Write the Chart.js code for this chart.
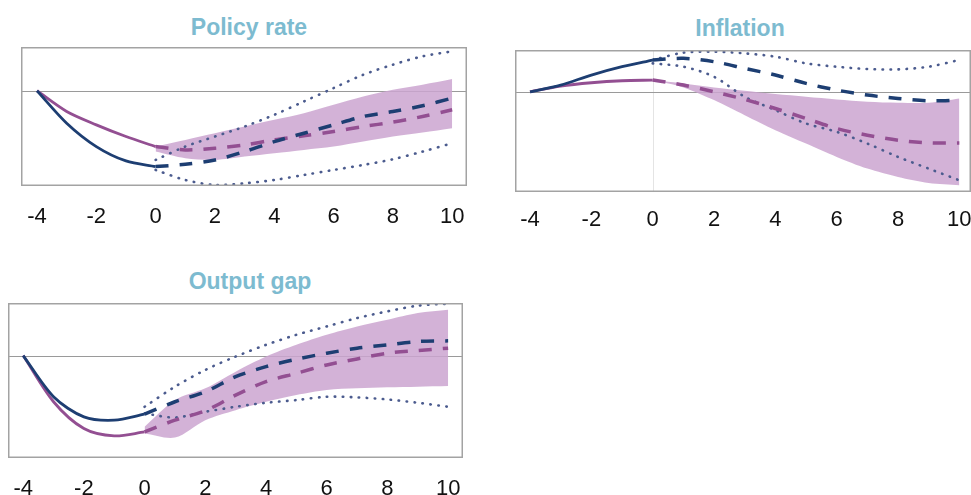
<!DOCTYPE html>
<html>
<head>
<meta charset="utf-8">
<script src="https://cdn.jsdelivr.net/npm/chart.js@4"></script>
<style>
  body { margin: 0; background: #fff; width: 971px; height: 495px; position: relative; overflow: hidden; font-family: "Liberation Sans", Arial, sans-serif; }
  .ttl { position: absolute; font-weight: bold; font-size: 23px; line-height: 26px; color: #7dbbd0; transform: translateX(-50%); white-space: nowrap; }
  .box { position: absolute; }
</style>
</head>
<body>
<div class="ttl" style="left:249px;top:14px">Policy rate</div>
<div class="ttl" style="left:740px;top:15px">Inflation</div>
<div class="ttl" style="left:250px;top:268px">Output gap</div>
<div class="box" style="left:21px;top:47px"><canvas id="cPolicy" width="446" height="184"></canvas></div>
<div class="box" style="left:515px;top:50px"><canvas id="cInfl" width="456" height="187"></canvas></div>
<div class="box" style="left:8px;top:303px"><canvas id="cGap" width="455" height="200"></canvas></div>
<script>
// ================= DATA =================
const xTicks = [-4, -2, 0, 2, 4, 6, 8, 10];
const histX = [-4, -3, -2, -1, 0];
const fcX = [0, 1, 2, 3, 4, 5, 6, 7, 8, 9, 10];

// policy rate
const polHistBlue = [0, -0.97, -1.67, -2.10, -2.27];
const polHistPurple = [0, -0.62, -1.02, -1.37, -1.67];
const polFcBlue = [-2.27, -2.20, -2.07, -1.82, -1.52, -1.27, -1.02, -0.77, -0.62, -0.45, -0.22];
const polFcPurple = [-1.67, -1.77, -1.72, -1.62, -1.47, -1.35, -1.22, -1.07, -0.94, -0.77, -0.57];
const polBandHi = [-1.67, -1.47, -1.27, -1.07, -0.87, -0.67, -0.42, -0.17, 0.03, 0.18, 0.35];
const polBandLo = [-1.82, -2.02, -2.07, -1.97, -1.87, -1.77, -1.67, -1.52, -1.37, -1.25, -1.12];
const polDotHi = [-2.07, -1.67, -1.37, -1.07, -0.72, -0.32, 0.08, 0.48, 0.78, 1.03, 1.18];
const polDotLo = [-2.37, -2.67, -2.82, -2.77, -2.67, -2.52, -2.37, -2.22, -2.05, -1.82, -1.57];

// inflation
const infHistBlue = [0, 0.2, 0.5, 0.75, 0.95];
const infHistPurple = [0, 0.17, 0.27, 0.33, 0.35];
const infFcBlue = [0.95, 1.0, 0.9, 0.7, 0.5, 0.25, 0.05, -0.1, -0.2, -0.27, -0.25];
const infFcPurple = [0.35, 0.2, 0, -0.23, -0.5, -0.8, -1.1, -1.3, -1.45, -1.53, -1.53];
const infBandHi = [0.35, 0.25, 0.13, 0.03, -0.07, -0.15, -0.23, -0.3, -0.33, -0.33, -0.2];
const infBandLo = [0.35, 0.13, -0.25, -0.7, -1.15, -1.55, -1.95, -2.3, -2.55, -2.73, -2.8];
const infDotHi = [0.95, 1.17, 1.2, 1.15, 1.05, 0.85, 0.75, 0.68, 0.67, 0.75, 0.95];
const infDotLo = [0.85, 0.75, 0.45, -0.15, -0.55, -0.95, -1.2, -1.55, -1.95, -2.3, -2.65];

// output gap
const gapHistBlue = [0, -1.23, -1.83, -1.93, -1.75];
const gapHistPurple = [0, -1.38, -2.18, -2.4, -2.28];
const gapFcBlue = [-1.75, -1.38, -1.08, -0.63, -0.33, -0.11, 0.07, 0.22, 0.32, 0.42, 0.44];
const gapFcPurple = [-2.28, -1.93, -1.65, -1.18, -0.78, -0.53, -0.28, -0.1, 0.07, 0.15, 0.22];
const gapBandHi = [-2.13, -1.33, -0.98, -0.48, -0.03, 0.32, 0.62, 0.87, 1.07, 1.27, 1.37];
const gapBandLo = [-2.33, -2.45, -1.93, -1.63, -1.38, -1.18, -1.03, -0.98, -0.95, -0.93, -0.91];
const gapDotHi = [-1.53, -0.93, -0.43, -0.03, 0.32, 0.62, 0.87, 1.12, 1.32, 1.49, 1.55];
const gapDotLo = [-1.73, -1.85, -1.68, -1.53, -1.41, -1.33, -1.23, -1.25, -1.31, -1.41, -1.53];

// ================= STYLE =================
const BLUE = "#1d3e72";
const PURPLE = "#934f92";
const BAND = "rgba(203,165,208,0.85)";
const DOTS = "#4b5b8e";
const AXIS_H = 45;

const pts = (xs, ys) => xs.map((x, i) => ({ x, y: ys[i] }));

// frame + zero line (+ optional faint vertical at 0)
const framePlugin = {
    id: "frame",
    beforeDatasetsDraw(chart, args, opts) {
        const { ctx, chartArea: a, scales } = chart;
        ctx.save();
        if (opts.vline) {
            const x0 = Math.round(scales.x.getPixelForValue(0)) + 0.5;
            ctx.strokeStyle = "#e4e4e4";
            ctx.lineWidth = 1;
            ctx.beginPath(); ctx.moveTo(x0, a.top); ctx.lineTo(x0, a.bottom); ctx.stroke();
        }
        const y0 = Math.round(scales.y.getPixelForValue(0)) + 0.5;
        ctx.strokeStyle = "#9a9a9a";
        ctx.lineWidth = 1.2;
        ctx.beginPath(); ctx.moveTo(a.left, y0); ctx.lineTo(a.right, y0); ctx.stroke();
        ctx.restore();
    },
    afterDatasetsDraw(chart) {
        const { ctx, chartArea: a } = chart;
        ctx.save();
        ctx.strokeStyle = "#a3a3a3";
        ctx.lineWidth = 1.5;
        ctx.strokeRect(a.left + 0.75, a.top + 0.75, a.right - a.left - 1.5, a.bottom - a.top - 1.5);
        ctx.restore();
    }
};

function makeChart(id, d, xr, yr, vline, tickPad) {
    const line = (data, color, width, dash) => ({
        data, borderColor: color, borderWidth: width, borderDash: dash || [],
        pointRadius: 0, tension: 0.3, fill: false, borderCapStyle: dash && dash[0] < 3 ? "round" : "butt"
    });
    // first dataset is drawn on top
    return new Chart(document.getElementById(id), {
        type: "line",
        data: {
            datasets: [
                line(pts(histX, d.histBlue), BLUE, 2.8),
                line(pts(histX, d.histPurple), PURPLE, 2.8),
                line(pts(fcX, d.fcBlue), BLUE, 3.5, [13, 11]),
                line(pts(fcX, d.fcPurple), PURPLE, 3.5, [13, 11]),
                line(pts(fcX, d.dotHi), DOTS, 2.6, [0.5, 7.5]),
                line(pts(fcX, d.dotLo), DOTS, 2.6, [0.5, 7.5]),
                { data: pts(fcX, d.bandHi), borderWidth: 0, pointRadius: 0, tension: 0.3, backgroundColor: BAND, fill: "+1" },
                { data: pts(fcX, d.bandLo), borderWidth: 0, pointRadius: 0, tension: 0.3, fill: false }
            ]
        },
        options: {
            responsive: false,
            animation: false,
            devicePixelRatio: 1,
            layout: { padding: 0 },
            plugins: { legend: { display: false }, tooltip: { enabled: false }, frame: { vline } },
            scales: {
                x: {
                    type: "linear", min: xr[0], max: xr[1],
                    afterBuildTicks: s => { s.ticks = xTicks.map(v => ({ value: v })); },
                    afterFit: s => { s.height = AXIS_H; s.paddingLeft = 0; s.paddingRight = 0; },
                    grid: { display: false, drawTicks: false },
                    border: { display: false },
                    ticks: { color: "#111", padding: tickPad, maxRotation: 0, font: { family: "Liberation Sans", size: 22 } }
                },
                y: { display: false, min: yr[0], max: yr[1] }
            }
        },
        plugins: [framePlugin]
    });
}

makeChart("cPolicy", {
    histBlue: polHistBlue, histPurple: polHistPurple, fcBlue: polFcBlue, fcPurple: polFcPurple,
    bandHi: polBandHi, bandLo: polBandLo, dotHi: polDotHi, dotLo: polDotLo
}, [-4.54, 10.5], [-2.85, 1.31], false, 18);

makeChart("cInfl", {
    histBlue: infHistBlue, histPurple: infHistPurple, fcBlue: infFcBlue, fcPurple: infFcPurple,
    bandHi: infBandHi, bandLo: infBandLo, dotHi: infDotHi, dotLo: infDotLo
}, [-4.49, 10.38], [-3.0, 1.25], true, 15);

makeChart("cGap", {
    histBlue: gapHistBlue, histPurple: gapHistPurple, fcBlue: gapFcBlue, fcPurple: gapFcPurple,
    bandHi: gapBandHi, bandLo: gapBandLo, dotHi: gapDotHi, dotLo: gapDotLo
}, [-4.5, 10.49], [-3.06, 1.57], false, 18);
</script>
</body>
</html>
